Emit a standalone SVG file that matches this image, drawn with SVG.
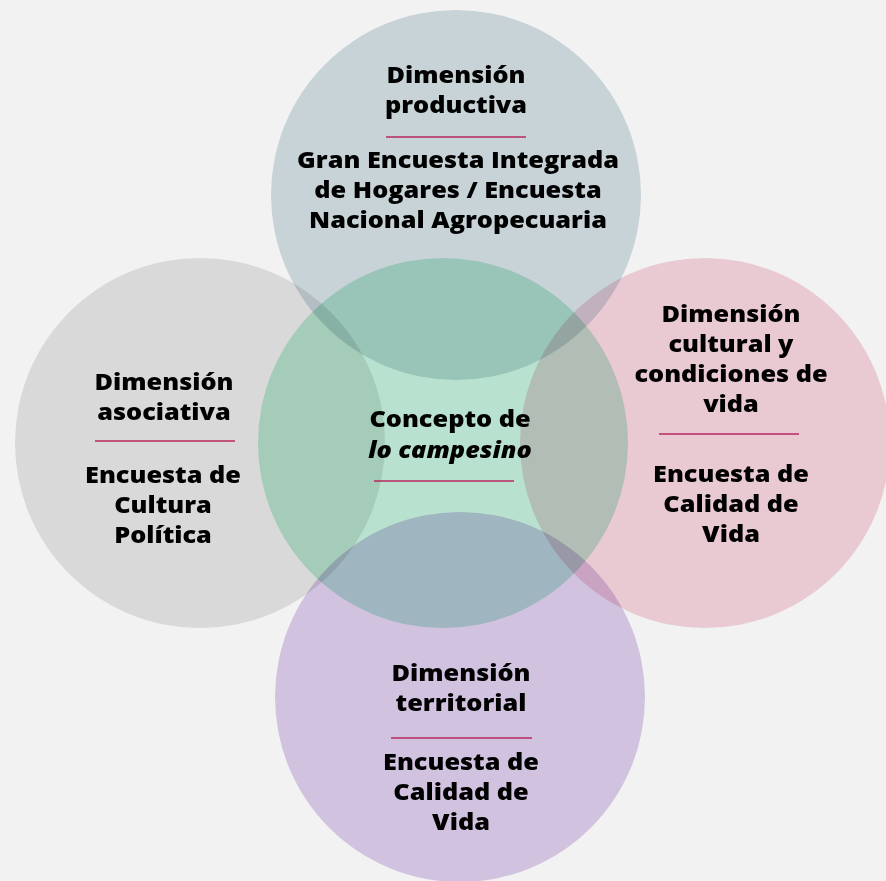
<svg xmlns="http://www.w3.org/2000/svg" width="886" height="881" viewBox="0 0 886 881">
<style>
.c{mix-blend-mode:multiply}
.t{font-family:"Open Sans","Noto Sans","Liberation Sans",sans-serif;font-weight:800;font-size:22px;fill:#000;text-anchor:middle}
.i{font-style:italic}
.sep{stroke:#b8285f;stroke-width:1.5}
</style>
<rect width="886" height="881" fill="#f2f2f2"/>
<g id="node-productiva">
<circle class="c" cx="456" cy="195" r="185" fill="#d3dfe4"/>
<g transform="translate(456 0) scale(1.15 1)">
<text class="t" x="0" y="83">Dimensión<tspan x="0" dy="30">productiva</tspan></text>
</g>
<line class="sep" x1="386" y1="137" x2="526" y2="137"/>
<g transform="translate(458 0) scale(1.15 1)">
<text class="t" x="0" y="168">Gran Encuesta Integrada<tspan x="0" dy="30">de Hogares / Encuesta</tspan><tspan x="0" dy="30">Nacional Agropecuaria</tspan></text>
</g>
</g>
<g id="node-asociativa">
<circle class="c" cx="200" cy="443" r="185" fill="#e5e5e5"/>
<g transform="translate(164 0) scale(1.15 1)">
<text class="t" x="0" y="390">Dimensión<tspan x="0" dy="30">asociativa</tspan></text>
</g>
<line class="sep" x1="95" y1="441" x2="235" y2="441"/>
<g transform="translate(163 0) scale(1.15 1)">
<text class="t" x="0" y="483">Encuesta de<tspan x="0" dy="30">Cultura</tspan><tspan x="0" dy="30">Política</tspan></text>
</g>
</g>
<g id="node-concepto">
<circle class="c" cx="443" cy="443" r="185" fill="#c2efda"/>
<g transform="translate(450 0) scale(1.15 1)">
<text class="t" x="0" y="427">Concepto de<tspan class="i" x="0" dy="31">lo campesino</tspan></text>
</g>
<line class="sep" x1="374" y1="481" x2="514" y2="481"/>
</g>
<g id="node-cultural">
<circle class="c" cx="705" cy="443" r="185" fill="#f6d5df"/>
<g transform="translate(731 0) scale(1.15 1)">
<text class="t" x="0" y="322">Dimensión<tspan x="0" dy="30">cultural y</tspan><tspan x="0" dy="30">condiciones de</tspan><tspan x="0" dy="30">vida</tspan></text>
</g>
<line class="sep" x1="659" y1="434" x2="799" y2="434"/>
<g transform="translate(731 0) scale(1.15 1)">
<text class="t" x="0" y="482">Encuesta de<tspan x="0" dy="30">Calidad de</tspan><tspan x="0" dy="30">Vida</tspan></text>
</g>
</g>
<g id="node-territorial">
<circle class="c" cx="460" cy="697" r="185" fill="#ddcdeb"/>
<g transform="translate(461 0) scale(1.15 1)">
<text class="t" x="0" y="681">Dimensión<tspan x="0" dy="30">territorial</tspan></text>
</g>
<line class="sep" x1="391" y1="738" x2="532" y2="738"/>
<g transform="translate(461 0) scale(1.15 1)">
<text class="t" x="0" y="770">Encuesta de<tspan x="0" dy="30">Calidad de</tspan><tspan x="0" dy="30">Vida</tspan></text>
</g>
</g>
<g id="connectors"/>
</svg>
